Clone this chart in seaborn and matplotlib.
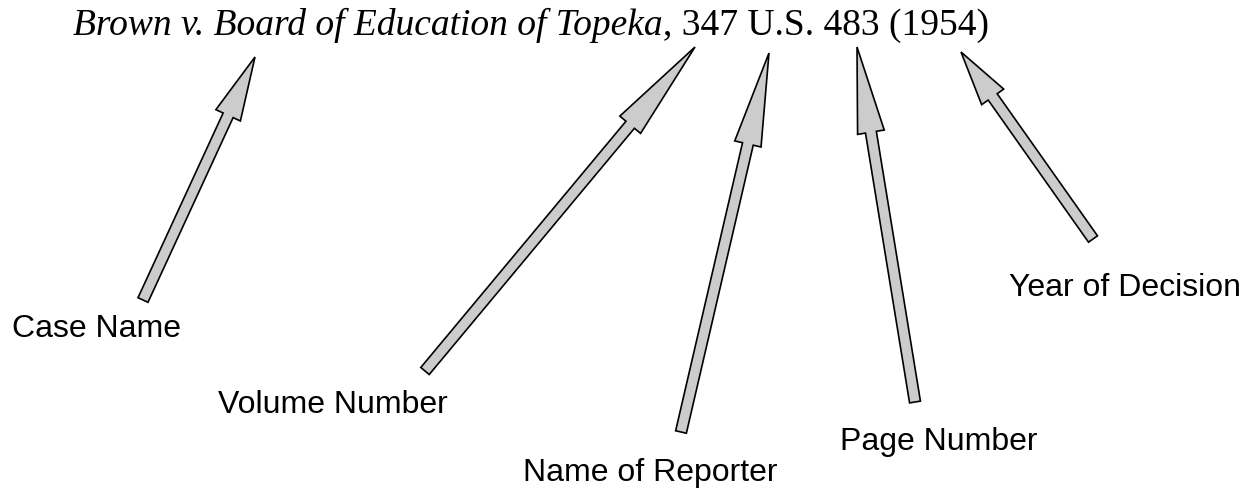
import matplotlib
matplotlib.use("Agg")
import matplotlib.pyplot as plt
from matplotlib.patches import FancyArrow
import seaborn as sns

# Citation parts
case_name = "Brown v. Board of Education of Topeka"
citation_rest = ", 347 U.S. 483 (1954)"

labels = ["Case Name", "Volume Number", "Name of Reporter", "Page Number", "Year of Decision"]

# arrow tips (pointing at the citation) and tails (near the labels), in pixels
tip_x = [255, 695, 769, 857, 961]
tip_y = [57, 47, 53, 47, 52]
tail_x = [143, 425, 681, 915, 1093]
tail_y = [300, 371, 432, 402, 239]

# label anchor (left, baseline)
label_x = [12, 218, 523, 840, 1009]
label_y = [337, 413, 481, 450, 296]

W, H = 1257, 488


def main():
    sns.set_theme(style="white")
    plt.rcParams["font.family"] = ["Liberation Sans", "DejaVu Sans"]

    fig = plt.figure(figsize=(W / 100, H / 100), dpi=100)
    ax = fig.add_axes([0, 0, 1, 1])
    ax.set_xlim(0, W)
    ax.set_ylim(H, 0)
    ax.axis("off")

    # citation line: italic case name, then roman rest
    t1 = ax.text(73, 35, case_name, fontsize=27, family="Liberation Serif",
                 style="italic", ha="left", va="baseline", color="black")
    fig.canvas.draw()
    bb = t1.get_window_extent(renderer=fig.canvas.get_renderer())
    x_end = ax.transData.inverted().transform((bb.x1, bb.y0))[0]
    ax.text(x_end, 35, citation_rest, fontsize=27, family="Liberation Serif",
            ha="left", va="baseline", color="black")

    for i in range(len(labels)):
        dx = tip_x[i] - tail_x[i]
        dy = tip_y[i] - tail_y[i]
        length = (dx ** 2 + dy ** 2) ** 0.5
        arr = FancyArrow(tail_x[i], tail_y[i], dx, dy, width=11, head_width=27,
                         head_length=0.24 * length, length_includes_head=True,
                         facecolor="#cccccc", edgecolor="black", linewidth=1.2,
                         joinstyle="miter")
        ax.add_patch(arr)
        ax.text(label_x[i], label_y[i], labels[i], fontsize=23, ha="left",
                va="baseline", color="black")

    fig.savefig("out.png", dpi=100, facecolor="white")


if __name__ == "__main__":
    main()
